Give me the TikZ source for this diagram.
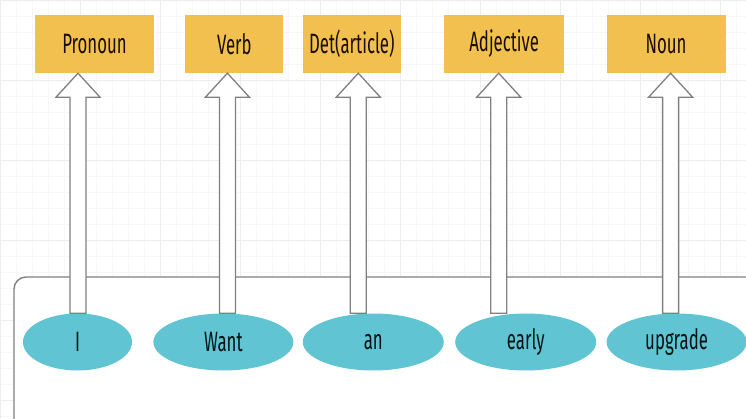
\documentclass[tikz,border=0pt]{standalone}
\usepackage{fontspec}
\usepackage{tikz}
\usetikzlibrary{positioning,calc,shapes.geometric}
\newfontfamily\tagfont[FakeStretch=0.6]{Fira Sans}
\definecolor{tagorange}{RGB}{242,192,78}
\definecolor{wordteal}{RGB}{96,196,210}
\definecolor{framegray}{RGB}{128,128,128}
\tikzset{
  tagbox/.style={rectangle, fill=tagorange, draw=none, minimum height=58pt, inner sep=0pt, text=black!90!orange, font=\tagfont\fontsize{28}{30}\selectfont},
  wordell/.style={ellipse, fill=wordteal, draw=none, minimum height=57pt, inner sep=0pt, text=black!85!teal, font=\tagfont\fontsize{28}{30}\selectfont},
  tagarr/.style={draw=framegray, fill=white, line width=1.3pt, line join=miter}
}
\newcommand\tagarrow[2]{%
  \draw[tagarr] let \p1=(#1), \p2=(#1 |- #2.south) in
    (\x1-8pt,\y1) -- (\x1-8pt,\y2-24pt) -- (\x1-22pt,\y2-24pt) -- (\x2,\y2)
    -- (\x1+22pt,\y2-24pt) -- (\x1+8pt,\y2-24pt) -- (\x1+8pt,\y1) -- cycle;}

\begin{document}
\begin{tikzpicture}[x=1pt, y=-1pt]
\useasboundingbox (0,0) rectangle (746,419);
\clip (0,0) rectangle (746,419);
\draw[black!3, step=16pt] (0,0) grid (746,419);
\draw[black!7, step=80pt] (0,0) grid (746,419);
\draw[framegray, line width=1.4pt, fill=white, rounded corners=12pt] (14,440) -- (14,277) -- (770,277) -- (770,440);
\node[tagbox, minimum width=119pt] (b-pron) at (94.5,44) {Pronoun};
\node[tagbox, minimum width=98pt, right=31pt of b-pron] (b-verb) {Verb};
\node[tagbox, minimum width=98pt, right=19pt of b-verb] (b-det) {Det(article)};
\node[tagbox, minimum width=120pt, right=43pt of b-det] (b-adj) {Adjective};
\node[tagbox, minimum width=119pt, right=42pt of b-adj] (b-noun) {Noun};
\node[wordell, minimum width=109pt] (e-i) at (77.5,342) {I};
\node[wordell, minimum width=140pt, right=21pt of e-i] (e-want) {Want};
\node[wordell, minimum width=141pt, right=9pt of e-want] (e-an) {an};
\node[wordell, minimum width=141pt, right=11pt of e-an] (e-early) {early};
\node[wordell, minimum width=140pt, right=10pt of e-early] (e-upg) {upgrade};
\coordinate (t1) at ([xshift=0.5pt]e-i.north);
\coordinate (t2) at ([xshift=4pt]e-want.north);
\coordinate (t3) at ([xshift=-15pt]e-an.north);
\coordinate (t4) at ([xshift=-27pt]e-early.north);
\coordinate (t5) at ([xshift=-6pt]e-upg.north);
\tagarrow{t1}{b-pron}
\tagarrow{t2}{b-verb}
\tagarrow{t3}{b-det}
\tagarrow{t4}{b-adj}
\tagarrow{t5}{b-noun}
\end{tikzpicture}
\end{document}
